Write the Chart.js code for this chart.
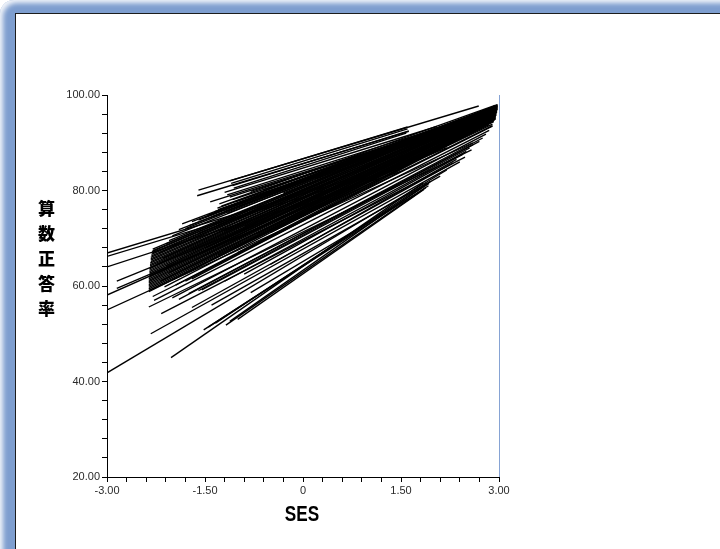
<!DOCTYPE html>
<html>
<head>
<meta charset="utf-8">
<script src="https://cdn.jsdelivr.net/npm/chart.js@4"></script>
<style>
  html, body { margin: 0; padding: 0; width: 720px; height: 549px; overflow: hidden; background: #fff; }
  #frame {
    position: absolute; left: 0; top: 0; width: 760px; height: 600px;
    background: #7e9ecf; border-top-left-radius: 14px;
    box-shadow: inset 3px 3px 5px rgba(255, 255, 255, 0.9);
  }
  #pane {
    position: absolute; left: 15px; top: 13px; width: 760px; height: 600px;
    background: #fff; border-left: 1px solid #1c1c1c; border-top: 1px solid #1c1c1c;
  }
  #wrap { position: absolute; left: 16px; top: 14px; width: 704px; height: 535px; }
</style>
</head>
<body>
<div id="frame"></div>
<div id="pane"></div>
<div id="wrap"><canvas id="myChart"></canvas></div>
<script>
// one regression line per school: start point and end point
const startSES = [
  -1.60, -1.62, -1.42, -1.31, -1.12, -1.10, -1.08, -1.06, -1.20, -1.16,
  -1.12, -1.08, -1.04, -1.28, -1.25, -1.22, -1.19, -1.16, -2.30, -2.31,
  -2.32, -2.33, -2.33, -2.34, -2.34, -2.35, -2.35, -2.35, -2.36, -2.36,
  -2.36, -2.36, -2.36, -2.36, -1.85, -1.70, -2.00, -3.00, -3.00, -3.00,
  -2.85, -2.85, -3.00, -3.00, -2.30, -2.28, -2.00, -1.90, -1.60, -1.52,
  -1.45, -1.34, -1.18, -1.12, -1.00, -2.36, -2.17, -2.33, -3.00, -2.02,
  -2.20, -2.15, -2.25, -2.10, -2.22, -2.05, -2.18, -2.00, -2.12, -1.95,
  -1.80, -1.70, -1.50, -1.80, -1.40, -2.05, -2.30, -2.31, -2.32, -2.33,
  -2.33, -2.34, -2.34, -2.35, -2.35, -2.35, -2.36, -2.36, -2.36, -2.36,
  -2.36, -1.90, -1.60, -1.35, -2.10, -1.75, -1.30, -1.00, -0.80, -1.45,
  -1.00, -0.60, -1.20, -0.90, -1.50, -1.10, -0.70, -1.30, -0.50, -1.00,
  -0.80, -0.40, -0.60, -1.60, -1.30, -0.30, 0.20, -1.70, -0.20, -1.40,
  -1.75, -1.55, -1.20, -0.90, -1.70, -0.50, -1.40, -0.80
];
const startScore = [
  80.1, 78.9, 77.6, 76.3, 82.0, 81.5, 81.0, 80.5, 79.6, 79.1,
  78.6, 78.1, 77.6, 77.2, 76.7, 76.2, 75.7, 75.2, 67.7, 67.2,
  66.6, 66.0, 65.4, 64.8, 64.2, 63.6, 63.0, 62.4, 61.8, 61.2,
  60.6, 60.0, 59.4, 58.8, 73.0, 73.5, 70.5, 66.9, 66.2, 64.0,
  61.0, 59.5, 58.1, 55.0, 57.8, 57.0, 57.5, 57.2, 59.0, 50.8,
  51.4, 52.2, 51.8, 52.6, 53.0, 55.6, 54.2, 50.0, 41.8, 45.0,
  67.0, 65.8, 64.5, 64.2, 62.7, 62.8, 61.0, 61.3, 59.8, 60.2,
  61.0, 61.5, 74.4, 72.0, 74.5, 69.5, 67.4, 66.9, 66.3, 65.7,
  65.1, 64.5, 63.9, 63.3, 62.7, 62.1, 61.5, 60.9, 60.3, 59.7,
  59.1, 71.8, 73.8, 75.6, 68.8, 72.6, 76.0, 77.0, 78.2, 74.9,
  74.0, 76.0, 71.5, 72.5, 68.0, 69.5, 71.0, 66.5, 71.2, 67.0,
  79.8, 81.0, 80.2, 71.0, 72.8, 79.5, 82.5, 67.5, 76.5, 65.5,
  58.4, 59.2, 61.0, 62.5, 55.5, 64.5, 56.0, 58.6
];
const endSES = [
  2.69, 1.62, 2.12, 2.60, 1.60, 1.60, 1.62, 1.58, 2.05, 2.08,
  2.12, 2.15, 2.18, 2.95, 2.95, 2.95, 2.95, 2.95, 2.98, 2.98,
  2.98, 2.98, 2.98, 2.98, 2.97, 2.97, 2.97, 2.96, 2.96, 2.96,
  2.95, 2.95, 2.95, 2.95, 2.95, 2.95, 2.97, 1.00, 1.20, 1.50,
  2.00, 2.20, 2.50, 2.60, 2.90, 2.85, 2.80, 2.75, 2.70, 1.92,
  1.93, 1.90, 1.88, 1.95, 1.85, 2.58, 2.48, 2.40, 2.20, 1.84,
  2.97, 2.97, 2.96, 2.96, 2.96, 2.95, 2.95, 2.94, 2.94, 2.93,
  2.93, 2.92, 2.96, 2.97, 2.94, 2.96, 2.97, 2.97, 2.97, 2.97,
  2.97, 2.96, 2.96, 2.96, 2.95, 2.95, 2.95, 2.94, 2.94, 2.94,
  2.93, 2.96, 2.95, 2.94, 2.97, 2.96, 2.93, 2.92, 2.90, 2.93,
  2.90, 2.90, 2.92, 2.90, 2.93, 2.91, 2.88, 2.92, 2.85, 2.90,
  2.88, 2.92, 2.90, 2.95, 2.94, 2.93, 2.95, 2.92, 2.90, 2.90,
  2.60, 2.55, 2.50, 2.45, 2.30, 2.35, 2.10, 1.70
];
const endScore = [
  97.7, 92.4, 92.9, 95.8, 93.3, 92.9, 92.5, 92.0, 93.4, 93.1,
  92.8, 92.5, 92.2, 97.9, 97.6, 97.4, 97.1, 96.9, 98.0, 97.8,
  97.6, 97.4, 97.2, 97.0, 96.8, 96.6, 96.4, 96.2, 96.0, 95.8,
  95.6, 95.4, 95.2, 95.0, 97.7, 97.5, 97.8, 83.5, 83.6, 84.0,
  88.0, 89.0, 91.5, 90.0, 93.5, 92.6, 91.8, 91.0, 90.3, 81.0,
  81.5, 81.6, 80.6, 81.9, 80.2, 88.5, 87.0, 86.0, 84.3, 81.6,
  97.9, 97.5, 97.1, 96.9, 96.5, 96.3, 95.9, 95.6, 95.3, 95.0,
  94.8, 94.6, 97.7, 97.6, 97.2, 97.4, 97.7, 97.5, 97.3, 97.1,
  96.9, 96.7, 96.5, 96.3, 96.1, 95.9, 95.7, 95.5, 95.3, 95.1,
  94.9, 97.6, 97.4, 97.0, 97.9, 97.3, 96.6, 96.3, 96.0, 96.8,
  95.9, 95.7, 95.4, 95.1, 95.2, 94.7, 94.3, 94.4, 93.8, 93.6,
  96.6, 97.0, 96.8, 96.6, 96.4, 96.4, 96.9, 95.0, 95.3, 93.9,
  89.6, 88.9, 88.2, 87.6, 85.8, 86.5, 83.0, 79.0
];

const xTicks = [-3, -1.5, 0, 1.5, 3];
const yTicks = [20, 40, 60, 80, 100];
const yTitle = '算数正答率';
const xTitle = 'SES';

function isMajor(list, v) {
    return list.some(t => Math.abs(t - v) < 1e-6);
}

const datasets = startSES.map((x0, i) => ({
    data: [{ x: x0, y: startScore[i] }, { x: endSES[i], y: endScore[i] }],
    showLine: true,
    borderColor: '#000',
    borderWidth: 1.35,
    pointRadius: 0,
    pointHoverRadius: 0
}));

// titles and the blue plot border
const decor = {
    id: 'decor',
    afterDraw(chart) {
        const ctx = chart.ctx;
        const area = chart.chartArea;
        ctx.save();
        ctx.strokeStyle = '#86a3d4';
        ctx.lineWidth = 1;
        ctx.beginPath();
        ctx.moveTo(Math.round(area.right) + 0.5, area.top);
        ctx.lineTo(Math.round(area.right) + 0.5, area.bottom);
        ctx.stroke();

        ctx.fillStyle = '#000';
        ctx.textAlign = 'center';
        ctx.textBaseline = 'middle';
        ctx.font = '900 17px "Noto Sans CJK JP"';
        [...yTitle].forEach((ch, i) => {
            ctx.fillText(ch, area.left - 60.5, area.top + 113.7 + i * 25);
        });

        // condensed bold SES
        ctx.font = 'bold 22px "Liberation Sans"';
        ctx.translate((area.left + area.right) / 2 - 1, area.bottom + 38);
        ctx.scale(0.78, 1);
        ctx.fillText(xTitle, 0, 0);
        ctx.restore();
    }
};

const ctx = document.getElementById('myChart').getContext('2d');

const myChart = new Chart(ctx, {
    type: 'scatter',
    data: { datasets: datasets },
    options: {
        responsive: true,
        maintainAspectRatio: false,
        animation: false,
        events: [],
        layout: {
            padding: { top: 81, bottom: 42, left: 31, right: 221 }
        },
        plugins: {
            legend: { display: false },
            tooltip: { enabled: false }
        },
        scales: {
            x: {
                type: 'linear',
                min: -3,
                max: 3,
                border: { color: '#000' },
                grid: { drawOnChartArea: false, drawTicks: true, tickLength: 5, color: '#000' },
                ticks: {
                    stepSize: 0.3,
                    autoSkip: false,
                    maxRotation: 0,
                    padding: 2,
                    color: '#2a2a2a',
                    font: { family: 'Liberation Sans', size: 11 },
                    callback: v => isMajor(xTicks, v) ? (v === 0 ? '0' : v.toFixed(2)) : ''
                },
                afterFit: s => { s.height = 30; s.paddingLeft = 0; s.paddingRight = 0; }
            },
            y: {
                min: 20,
                max: 100,
                border: { color: '#000' },
                grid: { drawOnChartArea: false, drawTicks: true, tickLength: 5, color: '#000' },
                ticks: {
                    stepSize: 4,
                    autoSkip: false,
                    padding: 2,
                    color: '#2a2a2a',
                    font: { family: 'Liberation Sans', size: 11 },
                    callback: v => isMajor(yTicks, v) ? v.toFixed(2) : ''
                },
                afterFit: s => { s.width = 60; s.paddingTop = 0; s.paddingBottom = 0; }
            }
        }
    },
    plugins: [decor]
});
</script>
</body>
</html>
